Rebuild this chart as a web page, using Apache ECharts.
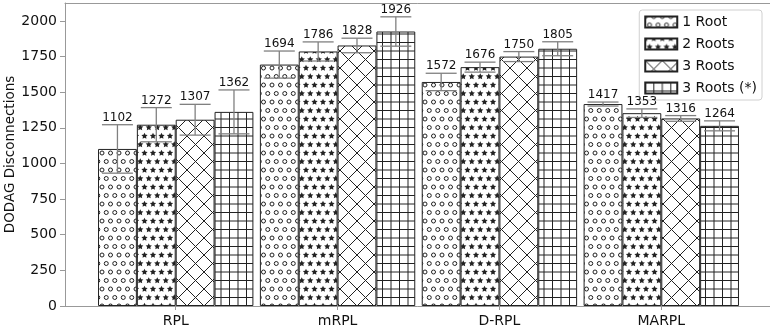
<!DOCTYPE html>
<html><head><meta charset="utf-8">
<script src="https://cdn.jsdelivr.net/npm/echarts@6/dist/echarts.min.js"></script>
<style>html,body{margin:0;padding:0;background:#fff}#c{width:770px;height:331px}</style>
</head><body><div id="c"></div>
<script>
const categories = ['RPL', 'mRPL', 'D-RPL', 'MARPL'];
const seriesNames = ['1 Root', '2 Roots', '3 Roots', '3 Roots (*)'];
const root1 = [1102, 1694, 1572, 1417];
const roots2 = [1272, 1786, 1676, 1353];
const roots3 = [1307, 1828, 1750, 1316];
const roots3s = [1362, 1926, 1805, 1264];
const err1 = [170, 95, 61, 14];
const err2 = [120, 67, 35, 30];
const err3 = [108, 51, 35, 20];
const err3s = [154, 103, 49, 35];
const yTicks = [0, 250, 500, 750, 1000, 1250, 1500, 1750, 2000];
const xTicks = [0, 1, 2, 3];

const FONT = 'DejaVu Sans';
const U = 51; // hatch unit (px)
const INK = '#222';
const TXT = '#111';

function linspace(a, b, n) { const r = []; for (let i = 0; i < n; i++) r.push(n === 1 ? a : a + (b - a) * i / (n - 1)); return r; }
function tile(draw) {
  const c = document.createElement('canvas'); c.width = U; c.height = U;
  const g = c.getContext('2d');
  g.fillStyle = '#fff'; g.fillRect(0, 0, U, U);
  g.strokeStyle = INK; g.fillStyle = INK; g.lineWidth = 1.0;
  draw(g);
  return { image: c, repeat: 'repeat' };
}
function shapes(g, fn) {
  const n = 6, off = 1 / n;
  for (let r = 0; r <= n; r++) {
    const cols = r % 2 === 0 ? linspace(0, 1, n + 1) : linspace(off / 2, 1 - off / 2, n);
    cols.forEach(x => fn(g, x * U, U - r * off * U));
  }
}
const patCircle = tile(g => shapes(g, (g, x, y) => { g.beginPath(); g.arc(x, y, 2.0, 0, Math.PI * 2); g.stroke(); }));
const patStar = tile(g => shapes(g, (g, x, y) => {
  const R = 3.3, r = R * 0.5; g.beginPath();
  for (let k = 0; k < 10; k++) { const a = -Math.PI / 2 + k * Math.PI / 5; const rr = k % 2 ? r : R; const px = x + rr * Math.cos(a), py = y + rr * Math.sin(a); k ? g.lineTo(px, py) : g.moveTo(px, py); }
  g.closePath(); g.fill();
}));
const patCross = tile(g => {
  const steps = linspace(-0.5, 0.5, 7);
  g.beginPath();
  steps.forEach(s => {
    g.moveTo(s * U, U - (-s) * U); g.lineTo((1 + s) * U, U - (1 - s) * U);
    g.moveTo(s * U, U - (1 + s) * U); g.lineTo((1 + s) * U, U - s * U);
  });
  g.stroke();
});
const patGrid = tile(g => {
  g.beginPath();
  for (let k = 0; k <= 6; k++) { const p = k * U / 6; g.moveTo(p, 0); g.lineTo(p, U); g.moveTo(0, p); g.lineTo(U, p); }
  g.stroke();
});

const bars = [root1, roots2, roots3, roots3s];
const errs = [err1, err2, err3, err3s];
const patterns = [patCircle, patStar, patCross, patGrid];
const BW = 0.24;

const series = [];
bars.forEach((vals, i) => {
  series.push({
    type: 'bar', name: seriesNames[i],
    data: vals.map((v, j) => [xTicks[j], v]),
    barWidth: (BW * 100) + '%', barGap: '0%',
    itemStyle: { color: patterns[i], borderColor: INK, borderWidth: 1 },
    emphasis: { disabled: true }, z: 2
  });
});
bars.forEach((vals, i) => {
  series.push({
    type: 'custom', name: 'err' + i, z: 5, silent: true,
    data: vals.map((v, j) => [xTicks[j], v, errs[i][j]]),
    encode: { x: 0, y: 1 },
    renderItem: (params, api) => {
      const x = api.value(0), v = api.value(1), e = api.value(2);
      const w = api.size([1, 0])[0];
      const dx = (i - 1.5) * BW * w;
      const top = api.coord([x, v + e]);
      const bot = api.coord([x, v - e]);
      const cx = top[0] + dx, cw = 15.5;
      const ls = { stroke: '#808080', lineWidth: 1.3 };
      return {
        type: 'group', children: [
          { type: 'line', shape: { x1: cx, y1: top[1], x2: cx, y2: bot[1] }, style: ls },
          { type: 'line', shape: { x1: cx - cw, y1: top[1], x2: cx + cw, y2: top[1] }, style: ls },
          { type: 'line', shape: { x1: cx - cw, y1: bot[1], x2: cx + cw, y2: bot[1] }, style: ls },
          { type: 'text', style: { text: String(v), x: cx, y: top[1] - 1, align: 'center', verticalAlign: 'bottom', fill: TXT, fontSize: 12, fontFamily: FONT } }
        ]
      };
    }
  });
});

const axisGray = '#999';
const chart = echarts.init(document.getElementById('c'));
chart.setOption({
  animation: false,
  textStyle: { fontFamily: FONT },
  grid: { left: 65, top: 3, width: 707, height: 303, containLabel: false, outerBoundsMode: 'none' },
  legend: {
    data: seriesNames, orient: 'vertical', right: 8, top: 10,
    itemWidth: 32, itemHeight: 11, itemGap: 6, itemTextGap: 10,
    padding: [4, 5, 4, 5], borderColor: '#d0d0d0', borderWidth: 1, borderRadius: 3,
    backgroundColor: 'rgba(255,255,255,0.8)', icon: 'rect',
    textStyle: { fontSize: 14, fontFamily: FONT, color: TXT, lineHeight: 16 }
  },
  xAxis: [{
    type: 'value', min: -0.684, max: 3.684,
    axisLine: { show: true, onZero: false, lineStyle: { color: axisGray } },
    splitLine: { show: false },
    axisTick: { show: true, customValues: xTicks, length: 4, lineStyle: { color: axisGray } },
    axisLabel: { customValues: xTicks, formatter: v => categories[v], fontSize: 14, color: TXT, margin: 8, fontFamily: FONT }
  }, {
    type: 'value', position: 'top', min: -0.684, max: 3.684,
    axisLine: { show: true, onZero: false, lineStyle: { color: axisGray } },
    splitLine: { show: false }, axisTick: { show: false }, axisLabel: { show: false }
  }],
  yAxis: {
    type: 'value', min: 0, max: 2126,
    axisLine: { show: true, onZero: false, lineStyle: { color: axisGray } },
    splitLine: { show: false },
    axisTick: { show: true, customValues: yTicks, length: 5, lineStyle: { color: axisGray } },
    axisLabel: { customValues: yTicks, formatter: v => String(v), fontSize: 14, color: TXT, margin: 8, fontFamily: FONT },
    name: 'DODAG Disconnections', nameLocation: 'middle', nameGap: 48, nameMoveOverlap: false,
    nameTextStyle: { fontSize: 13.5, color: TXT, fontFamily: FONT }
  },
  series: series
});
</script></body></html>
